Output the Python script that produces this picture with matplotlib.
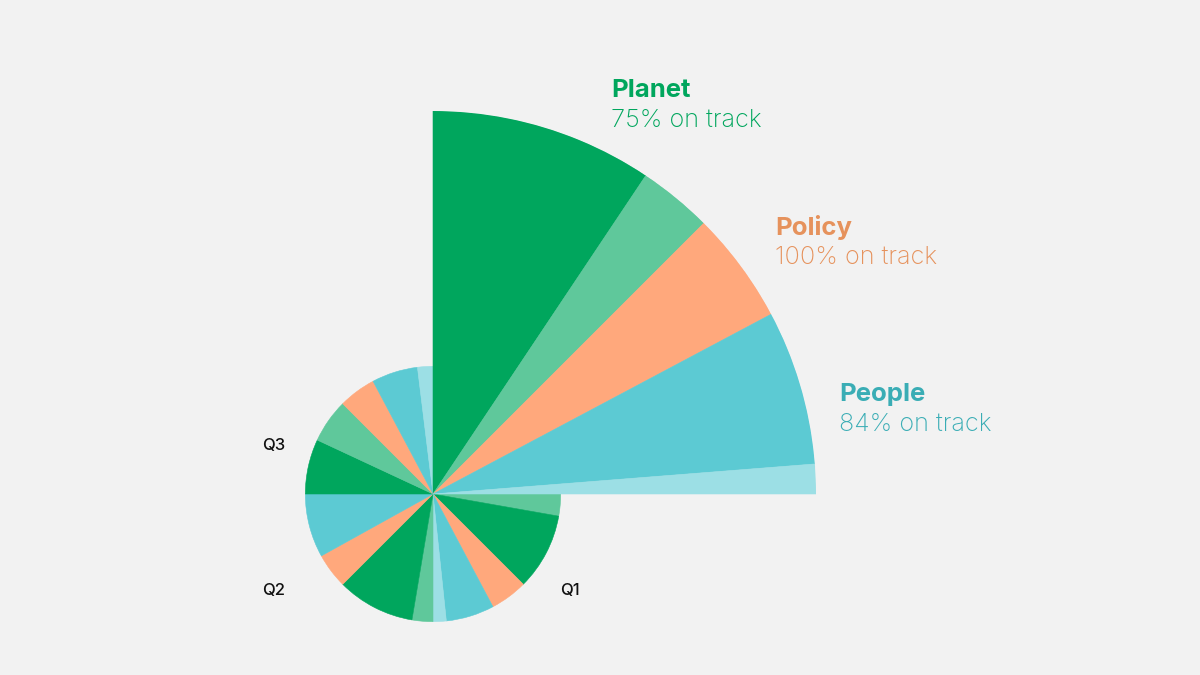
import numpy as np
import matplotlib
matplotlib.use("Agg")
import matplotlib.pyplot as plt

# segment data, degrees of each 90 degree quarter, drawn clockwise
quarters = ["Q1", "Q2", "Q3", "Q4"]
q1_keys = ["planet_off", "planet_on", "policy", "people_on", "people_off"]
q1_sizes = [10, 35, 17, 22, 6]
q2_keys = ["planet_off", "planet_on", "policy", "people_on"]
q2_sizes = [9.5, 35.5, 16, 29]
q3_keys = ["planet_on", "planet_off", "policy", "people_on", "people_off"]
q3_sizes = [25, 20, 17, 21, 7]
q4_keys = ["planet_on", "planet_off", "policy", "people_on", "people_off"]
q4_sizes = [33.75, 11.25, 17, 23.5, 4.5]
quarter_radius = [1, 1, 1, 3]

pillars = ["Planet", "Policy", "People"]
on_track = ["75% on track", "100% on track", "84% on track"]

colors = {
    "planet_on": "#00A65D",
    "planet_off": "#5FC89B",
    "policy": "#FFA87C",
    "people_on": "#5CCAD3",
    "people_off": "#9CDFE5",
}
text_colors = ["#00A65D", "#E6925C", "#3AADB5"]
bg = "#F2F2F2"

plt.rcParams["font.family"] = ["Inter", "DejaVu Sans"]

fig = plt.figure(figsize=(12, 6.75), dpi=100, facecolor=bg)
W, H = 1200, 675
cx, cy, R = 433, 675 - 494, 383
ax = fig.add_axes([(cx - R) / W, (cy - R) / H, 2 * R / W, 2 * R / H],
                  projection="polar")
ax.set_theta_zero_location("E")
ax.set_theta_direction(-1)
ax.set_ylim(0, 3)
ax.set_axis_off()
ax.patch.set_visible(False)

all_keys = [q1_keys, q2_keys, q3_keys, q4_keys]
all_sizes = [q1_sizes, q2_sizes, q3_sizes, q4_sizes]
for qi in range(4):
    start = 90 * qi
    sizes = np.array(all_sizes[qi], dtype=float)
    lefts = start + np.concatenate([[0], np.cumsum(sizes)[:-1]])
    cols = [colors[k] for k in all_keys[qi]]
    ax.bar(np.deg2rad(lefts), quarter_radius[qi], width=np.deg2rad(sizes),
           align="edge", bottom=0, color=cols, edgecolor=cols, linewidth=0.4)

# quarter labels
q_pos = [(560, 595), (262, 595), (262, 450)]
for (x, y), q in zip(q_pos, quarters[:3]):
    fig.text(x / W, (H - y) / H, q, fontsize=12, fontweight="medium",
             color="#111111", ha="left", va="baseline")

# pillar labels
label_pos = [(611, 97, 127), (775, 235, 264), (839, 401, 431)]
for (x, y1, y2), name, pct, c in zip(label_pos, pillars, on_track, text_colors):
    fig.text(x / W, (H - y1) / H, name, fontsize=18.5, fontweight="bold",
             color=c, ha="left", va="baseline")
    fig.text(x / W, (H - y2) / H, pct, fontsize=18.2, fontweight="light",
             color=c, ha="left", va="baseline")

fig.savefig("out.png", dpi=100, facecolor=bg)
